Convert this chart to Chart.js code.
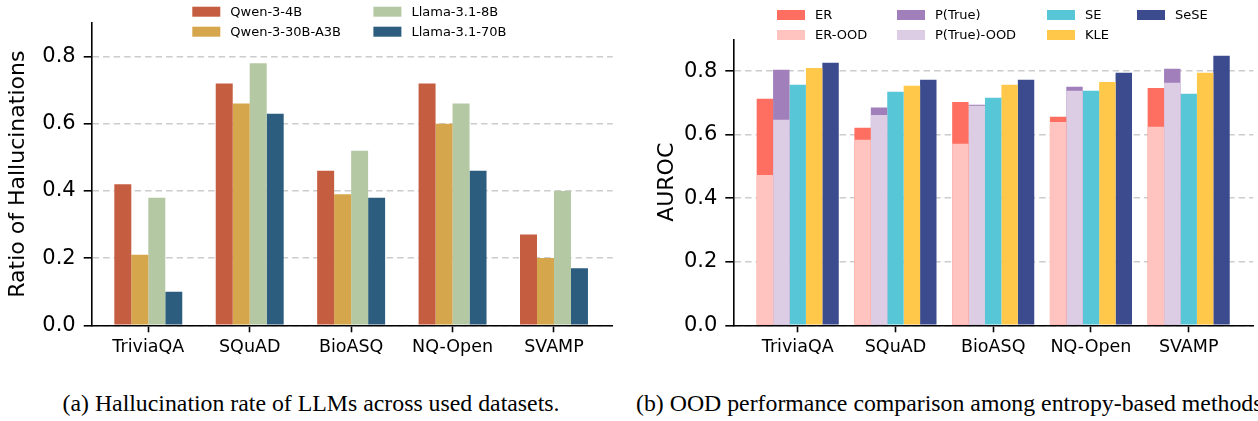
<!DOCTYPE html>
<html>
<head>
<meta charset="utf-8">
<script src="https://cdn.jsdelivr.net/npm/chart.js@4.4.1/dist/chart.umd.min.js"></script>
<style>
  body { margin: 0; background: #fff; width: 1258px; height: 421px; overflow: hidden; position: relative; }
  .panel { position: absolute; top: 0; width: 629px; height: 372px; }
  #panelA { left: 0; }
  #panelB { left: 629px; }
  .caption { position: absolute; top: 390px; font-family: "Liberation Serif", serif; font-size: 23.8px; white-space: nowrap; color: #000; }
  #capA { left: 0; width: 622px; text-align: center; }
  #capB { left: 636px; }
</style>
</head>
<body>
<div class="panel" id="panelA"><canvas id="rateChart"></canvas></div>
<div class="panel" id="panelB"><canvas id="oodChart"></canvas></div>
<div class="caption" id="capA">(a) Hallucination rate of LLMs across used datasets.</div>
<div class="caption" id="capB">(b) OOD performance comparison among entropy-based methods</div>
<script>
const datasetNames = ['TriviaQA', 'SQuAD', 'BioASQ', 'NQ-Open', 'SVAMP'];
const yTicks = [0, 0.2, 0.4, 0.6, 0.8];

// ratio of hallucinated answers per model
const qwen4b   = [0.42, 0.72, 0.46, 0.72, 0.27];
const qwen30b  = [0.21, 0.66, 0.39, 0.60, 0.20];
const llama8b  = [0.38, 0.78, 0.52, 0.66, 0.40];
const llama70b = [0.10, 0.63, 0.38, 0.46, 0.17];

// AUROC per method, in-distribution and OOD
const er       = [0.713, 0.622, 0.703, 0.656, 0.747];
const erOod    = [0.473, 0.584, 0.571, 0.640, 0.625];
const pTrue    = [0.804, 0.685, 0.694, 0.751, 0.807];
const pTrueOod = [0.647, 0.662, 0.691, 0.738, 0.763];
const se       = [0.757, 0.735, 0.716, 0.738, 0.729];
const kle      = [0.810, 0.754, 0.757, 0.766, 0.795];
const sese     = [0.826, 0.773, 0.773, 0.795, 0.848];

const pts = arr => arr.map((v, i) => ({ x: i, y: v }));
const FONT = '"DejaVu Sans", sans-serif';

// matplotlib-style legend laid out column by column
const gridLegend = {
  id: 'gridLegend',
  afterDraw(chart, args, opts) {
    const ctx = chart.ctx;
    ctx.save();
    ctx.font = '13px ' + FONT;
    ctx.textBaseline = 'middle';
    opts.items.forEach(([label, col, row]) => {
      const ds = chart.data.datasets.find(d => d.label === label);
      const x = opts.cols[col], y = opts.rows[row];
      ctx.fillStyle = ds.backgroundColor;
      ctx.fillRect(x, y - 5, 28, 10);
      ctx.fillStyle = '#000';
      ctx.fillText(label, x + 38, y + 1);
    });
    ctx.restore();
  }
};

let makeChart = (id, sets, cfg) => new Chart(document.getElementById(id), {
  type: 'bar',
  data: { datasets: sets },
  plugins: [gridLegend],
  options: {
    responsive: true,
    maintainAspectRatio: false,
    animation: false,
    layout: { padding: { top: cfg.top, right: cfg.right, left: cfg.left, bottom: 0 } },
    datasets: { bar: { categoryPercentage: cfg.groupWidth, barPercentage: 1, borderWidth: 0 } },
    plugins: { legend: { display: false }, tooltip: { enabled: false }, gridLegend: cfg.legend },
    scales: {
      x: {
        type: 'linear',
        stacked: cfg.overlay,
        offset: false,
        min: cfg.xMin,
        max: cfg.xMax,
        z: 1,
        afterBuildTicks: s => { s.ticks = datasetNames.map((n, i) => ({ value: i })); },
        afterFit: s => { s.height = 46.7; },
        grid: { drawOnChartArea: false, offset: false, tickLength: 7, tickWidth: 1.6, tickColor: '#000' },
        border: { color: '#000', width: 1.6 },
        ticks: { color: '#000', padding: 5, font: { family: FONT, size: 17.5 }, callback: v => datasetNames[v] }
      },
      y: {
        min: 0,
        max: 0.9,
        stacked: false,
        z: 1,
        afterBuildTicks: s => { s.ticks = yTicks.map(v => ({ value: v })); },
        afterFit: s => { s.width = cfg.axisWidth; },
        grid: { color: 'rgba(128,128,128,0.4)', lineWidth: 1.6, tickLength: 8, tickWidth: 1.6,
                tickColor: '#000', tickBorderDash: [] },
        border: { color: '#000', width: 1.6, dash: [6.5, 4] },
        ticks: { color: '#000', padding: 8, font: { family: FONT, size: 21 }, callback: v => v.toFixed(1) },
        title: { display: true, text: cfg.yTitle, color: '#000', padding: cfg.titlePad, font: { family: FONT, size: 22 } }
      }
    }
  }
});

makeChart('rateChart', [
  { label: 'Qwen-3-4B', data: pts(qwen4b), backgroundColor: '#c55e40' },
  { label: 'Qwen-3-30B-A3B', data: pts(qwen30b), backgroundColor: '#d6a64c' },
  { label: 'Llama-3.1-8B', data: pts(llama8b), backgroundColor: '#b4c8a4' },
  { label: 'Llama-3.1-70B', data: pts(llama70b), backgroundColor: '#2c5d7e' }
], {
  top: 23, right: 16.3, left: 0, axisWidth: 91.7, titlePad: 5,
  groupWidth: 0.67, overlay: false, xMin: -0.558, xMax: 4.579,
  yTitle: 'Ratio of Hallucinations',
  legend: {
    cols: [192.3, 373.4], rows: [11.7, 31.7],
    items: [['Qwen-3-4B', 0, 0], ['Qwen-3-30B-A3B', 0, 1], ['Llama-3.1-8B', 1, 0], ['Llama-3.1-70B', 1, 1]]
  }
});

// OOD bars sit in front of their in-distribution counterpart (same stack id)
makeChart('oodChart', [
  { label: 'ER-OOD', data: pts(erOod), backgroundColor: '#ffc4c0', stack: 'er' },
  { label: 'ER', data: pts(er), backgroundColor: '#ff6f61', stack: 'er' },
  { label: 'P(True)-OOD', data: pts(pTrueOod), backgroundColor: '#dccde4', stack: 'pt' },
  { label: 'P(True)', data: pts(pTrue), backgroundColor: '#a17fba', stack: 'pt' },
  { label: 'SE', data: pts(se), backgroundColor: '#57c6d7', stack: 'se' },
  { label: 'KLE', data: pts(kle), backgroundColor: '#ffc84a', stack: 'kle' },
  { label: 'SeSE', data: pts(sese), backgroundColor: '#3c4b8e', stack: 'sese' }
], {
  top: 39.3, right: 4.7, left: 20, axisWidth: 84.3, titlePad: 5,
  groupWidth: 0.84, overlay: true, xMin: -0.659, xMax: 4.661,
  yTitle: 'AUROC',
  legend: {
    cols: [148, 268, 418, 508], rows: [15, 35],
    items: [['ER', 0, 0], ['ER-OOD', 0, 1], ['P(True)', 1, 0], ['P(True)-OOD', 1, 1],
            ['SE', 2, 0], ['KLE', 2, 1], ['SeSE', 3, 0]]
  }
});
</script>
</body>
</html>
